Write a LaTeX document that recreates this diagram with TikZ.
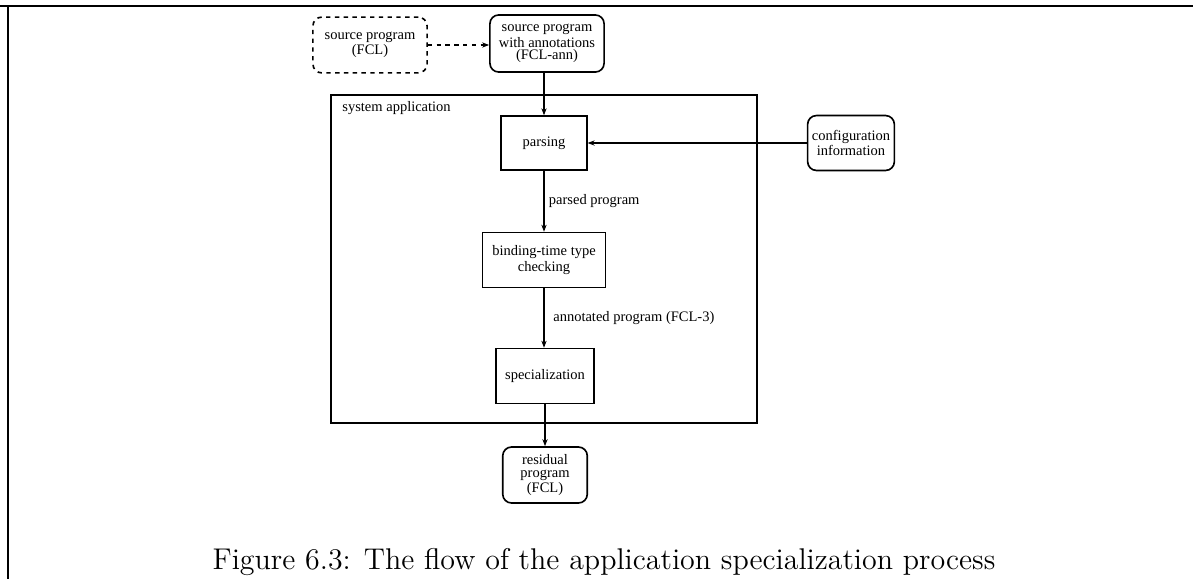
\documentclass[tikz,border=0pt]{standalone}
\usepackage{fontspec}
\setmainfont{Latin Modern Roman}
\newfontfamily\diagfont{Liberation Serif}
\usetikzlibrary{arrows.meta}
\begin{document}
\begin{tikzpicture}[x=0.016cm,y=-0.016cm,
  every node/.style={font=\diagfont\fontsize{6.6}{5.8}\selectfont, align=center, inner sep=1pt},
  stepbox/.style={draw, line width=0.75pt, minimum width=#1, minimum height=25pt},
  databox/.style={draw, line width=0.75pt, rounded corners=4pt, minimum width=#1, minimum height=25.5pt},
  flow/.style={line width=0.5pt, -{Stealth[length=3.2pt,width=2.4pt]}},
  frameline/.style={line width=0.9pt}]
  \useasboundingbox (0,0) rectangle (1193,579);

  % page frame
  \draw[frameline] (0,6) -- (1193,6);
  \draw[frameline] (8,6) -- (8,579);

  % system application
  \draw[line width=0.6pt] (331,95) rectangle (757,423);
  \node[anchor=north west, inner sep=0pt] (syslabel) at (342,101) {system application};

  % inputs
  \node[databox=52pt, dash pattern=on 2pt off 2pt, minimum height=25.4pt] (src) at (370,45) {source program\\(FCL)};
  \node[databox=52pt, minimum height=26pt] (ann) at (547,43.5) {source program\\with annotations\\(FCL-ann)};
  \node[databox=39.5pt, minimum height=25pt] (cfg) at (851,143) {configuration\\information};

  % processing steps
  \node[stepbox=39pt, minimum height=24.5pt] (parse) at (544,143) {parsing};
  \node[stepbox=56pt] (btc) at (544,260) {binding-time type\\checking};
  \node[stepbox=44.5pt] (spec) at (545,376) {specialization};

  % output
  \node[databox=38.5pt, minimum height=25.5pt] (res) at (545,475) {residual\\program\\(FCL)};

  % connectors
  \draw[flow, dash pattern=on 2pt off 2pt] (src.east) -- (ann.west |- src.east);
  \draw[flow] (ann.south -| parse.north) -- (parse.north);
  \draw[flow] (cfg.west) -- (parse.east |- cfg.west);
  \draw[flow] (parse.south) -- node[right, pos=0.5, xshift=1pt] (lbl1) {parsed program} (parse.south |- btc.north);
  \draw[flow] (btc.south) -- node[right, pos=0.5, xshift=3pt] (lbl2) {annotated program (FCL-3)} (btc.south |- spec.north);
  \draw[flow] (spec.south) -- (res.north);

  % caption
  \node[font=\fontsize{13.65}{16}\selectfont, anchor=base] (cap) at (604,569) {Figure 6.3: The flow of the application specialization process};
\end{tikzpicture}
\end{document}
